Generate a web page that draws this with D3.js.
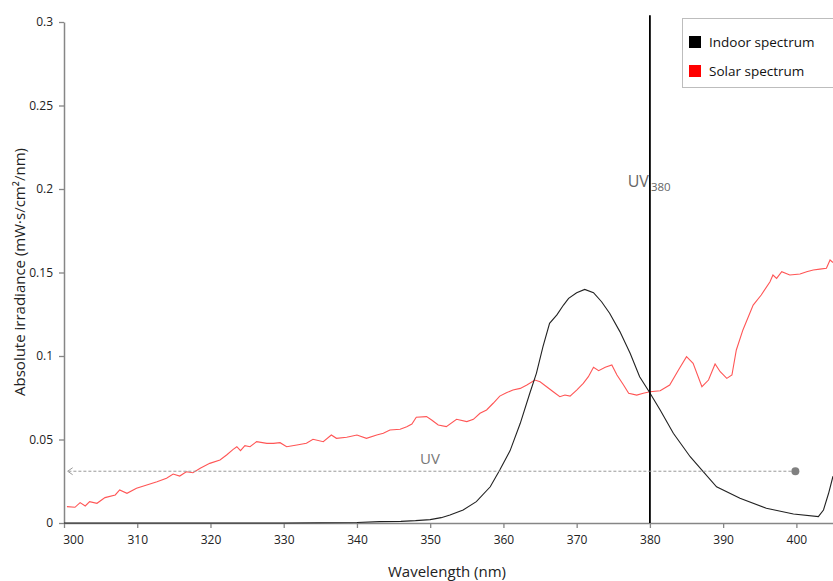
<!DOCTYPE html>
<html><head><meta charset="utf-8">
<script src="https://cdn.jsdelivr.net/npm/d3@7"></script>
<style>body{margin:0;background:#fff}svg{display:block}</style>
</head><body>
<svg id="c" width="833" height="581"></svg>
<script>
const xTicks = [300,310,320,330,340,350,360,370,380,390,400];
const yTicks = [0,0.05,0.1,0.15,0.2,0.25,0.3];
const yTickLabels = ["0","0.05","0.1","0.15","0.2","0.25","0.3"];
const seriesNames = ["Indoor spectrum","Solar spectrum"];

const solarWl = [300.4,301.5,302.2,302.9,303.5,304.5,305.6,307,307.6,308.6,309.9,311.3,312.7,314,314.9,315.8,316.7,317.6,318.6,319.9,321.3,322.2,323.1,323.6,324.1,324.7,325.4,326.3,327.7,328.6,329.5,330.4,331.8,333.1,334,335.4,336.5,337.2,338.6,340,341.3,342.7,343.6,344.5,345.9,346.8,347.5,348.1,349.5,350.2,351.1,352.2,353.6,355,355.9,356.8,357.7,358.6,359.5,360.4,361.3,362.3,363.2,364.3,365,365.9,366.8,367.7,368.4,369.1,370,370.9,371.6,372.3,373,373.9,374.8,375.5,376.4,377.1,378.2,379.1,380,381.4,382.7,383.9,385,385.9,387.1,388,388.9,389.6,390.5,391.2,391.8,392.7,394.1,395.2,396.4,396.8,397.3,398,399.1,400.5,401.4,402.3,403.2,404.1,404.6,405];
const solarVal = [0.0098,0.0094,0.0122,0.0102,0.0128,0.0118,0.0152,0.0168,0.0198,0.0178,0.0208,0.0228,0.0247,0.0268,0.0293,0.0281,0.0307,0.0301,0.0328,0.0357,0.0377,0.0407,0.0441,0.0457,0.0433,0.0463,0.0457,0.0487,0.0477,0.0477,0.0481,0.0457,0.0467,0.0477,0.0501,0.0487,0.0527,0.0507,0.0513,0.0527,0.0507,0.0527,0.0537,0.0557,0.0561,0.0577,0.0593,0.0633,0.0637,0.0617,0.0587,0.0577,0.0621,0.0607,0.0621,0.0657,0.0677,0.0717,0.0760,0.0780,0.0796,0.0806,0.0826,0.0856,0.0846,0.0816,0.0786,0.0756,0.0766,0.0760,0.0796,0.0836,0.0876,0.0932,0.0912,0.0932,0.0946,0.0886,0.0826,0.0777,0.0766,0.0777,0.0786,0.0792,0.0826,0.0916,0.0996,0.0956,0.0816,0.0856,0.0952,0.0906,0.0866,0.0886,0.1036,0.1156,0.1305,0.1365,0.1445,0.1485,0.1465,0.1505,0.1485,0.1491,0.1505,0.1515,0.1520,0.1525,0.1575,0.1560];

const indoorWl = [300,310,320,330,340,343.1,346,348,350,351.5,352.7,354.5,356.3,358.2,359.5,360.9,362.3,363.6,364.5,365.4,366.3,367.3,368.2,368.9,370,371.1,372.3,373.4,374.5,375.9,377.3,378.6,379.9,381.4,383.2,385.5,387.1,389.1,392.3,395.9,399.6,403,403.7,404.4,405];
const indoorVal = [0,0,0,0,0.0003,0.0008,0.0010,0.0014,0.0020,0.0032,0.0048,0.0078,0.0128,0.0217,0.0317,0.0432,0.0597,0.0777,0.0896,0.1056,0.1196,0.1246,0.1305,0.1345,0.1379,0.1399,0.1379,0.1325,0.1256,0.1146,0.1016,0.0876,0.0786,0.0677,0.0537,0.0397,0.0317,0.0217,0.0148,0.0088,0.0054,0.0038,0.0078,0.0178,0.0280];

const uvLineWl = 380;
const uvArrowVal = 0.031;
const uvArrowFrom = 400, uvArrowTo = 300.5;

const svg = d3.select("#c");
const x = d3.scaleLinear().domain([300,405]).range([64,833]);
const y = d3.scaleLinear().domain([0,0.3]).range([523,22]);
const axisColor = "#868686";
const font = "'Open Sans', sans-serif";

// axes
const xa = svg.append("g").attr("transform","translate(0,523)")
  .call(d3.axisBottom(x).tickValues(xTicks).tickSize(5).tickSizeOuter(0).tickFormat(d3.format("d")));
xa.select(".domain").attr("stroke",axisColor).attr("stroke-width",1.5);
xa.selectAll(".tick line").attr("stroke",axisColor).attr("stroke-width",1.3);
xa.selectAll(".tick text").attr("font-family",font).attr("font-size",12).attr("fill","#222").attr("dy","1.05em");
xa.selectAll(".tick text").filter(d=>d===300).attr("dx",9);

const ya = svg.append("g").attr("transform","translate(64,0)")
  .call(d3.axisLeft(y).tickValues(yTicks).tickSize(5).tickSizeOuter(0).tickFormat((d,i)=>yTickLabels[i]));
ya.select(".domain").attr("stroke",axisColor).attr("stroke-width",1.5);
ya.selectAll(".tick line").attr("stroke",axisColor).attr("stroke-width",1.3);
ya.selectAll(".tick text").attr("font-family",font).attr("font-size",12).attr("fill","#222").attr("x",-11);

// titles
svg.append("text").attr("x",447).attr("y",577).attr("text-anchor","middle")
  .attr("font-family",font).attr("font-size",15).attr("fill","#222").text("Wavelength (nm)");
svg.append("text").attr("transform","translate(25,272) rotate(-90)").attr("text-anchor","middle")
  .attr("font-family",font).attr("font-size",15).attr("fill","#222").text("Absolute irradiance (mW·s/cm²/nm)");

// lines
const line = d3.line().x(d=>x(d[0])).y(d=>y(d[1]));
svg.append("path").datum(solarWl.map((w,i)=>[w,solarVal[i]]))
  .attr("d",line).attr("fill","none").attr("stroke","#ff5555").attr("stroke-width",1.1);
svg.append("path").datum(indoorWl.map((w,i)=>[w,indoorVal[i]]))
  .attr("d",line).attr("fill","none").attr("stroke","#222").attr("stroke-width",1.1);

// UV380 vertical line
svg.append("line").attr("x1",x(uvLineWl)).attr("x2",x(uvLineWl)).attr("y1",y(0.304)).attr("y2",y(0))
  .attr("stroke","#000").attr("stroke-width",1.8);
svg.append("text").attr("x",x(uvLineWl)-1).attr("y",187).attr("text-anchor","end")
  .attr("font-family",font).attr("font-size",16).attr("fill","#666").text("UV");
svg.append("text").attr("x",x(uvLineWl)+1).attr("y",191)
  .attr("font-family",font).attr("font-size",11.5).attr("fill","#666").text("380");

// UV dashed arrow
svg.append("line").attr("x1",x(uvArrowFrom)).attr("x2",x(uvArrowTo)+1).attr("y1",y(uvArrowVal)).attr("y2",y(uvArrowVal))
  .attr("stroke","#999").attr("stroke-width",1).attr("stroke-dasharray","3,2");
const ax = x(uvArrowTo), ay = y(uvArrowVal);
svg.append("path").attr("d",`M${ax+5},${ay-3.5} L${ax},${ay} L${ax+5},${ay+3.5}`)
  .attr("fill","none").attr("stroke","#999").attr("stroke-width",1);
svg.append("circle").attr("cx",x(uvArrowFrom)-1).attr("cy",ay).attr("r",4).attr("fill","#808080");
svg.append("text").attr("x",430).attr("y",464).attr("text-anchor","middle")
  .attr("font-family",font).attr("font-size",15).attr("fill","#777").text("UV");

// legend
const lg = svg.append("g");
lg.append("rect").attr("x",682.5).attr("y",18.5).attr("width",160).attr("height",69)
  .attr("fill","#fff").attr("stroke","#bdbdbd").attr("stroke-width",1);
const colors = ["#000","#ff0000"];
seriesNames.forEach((n,i)=>{
  lg.append("rect").attr("x",689).attr("y",36+i*29).attr("width",12).attr("height",12).attr("fill",colors[i]);
  lg.append("text").attr("x",709).attr("y",47+i*29).attr("font-family",font).attr("font-size",13.5)
    .attr("fill","#111").text(n);
});
</script>
</body></html>
